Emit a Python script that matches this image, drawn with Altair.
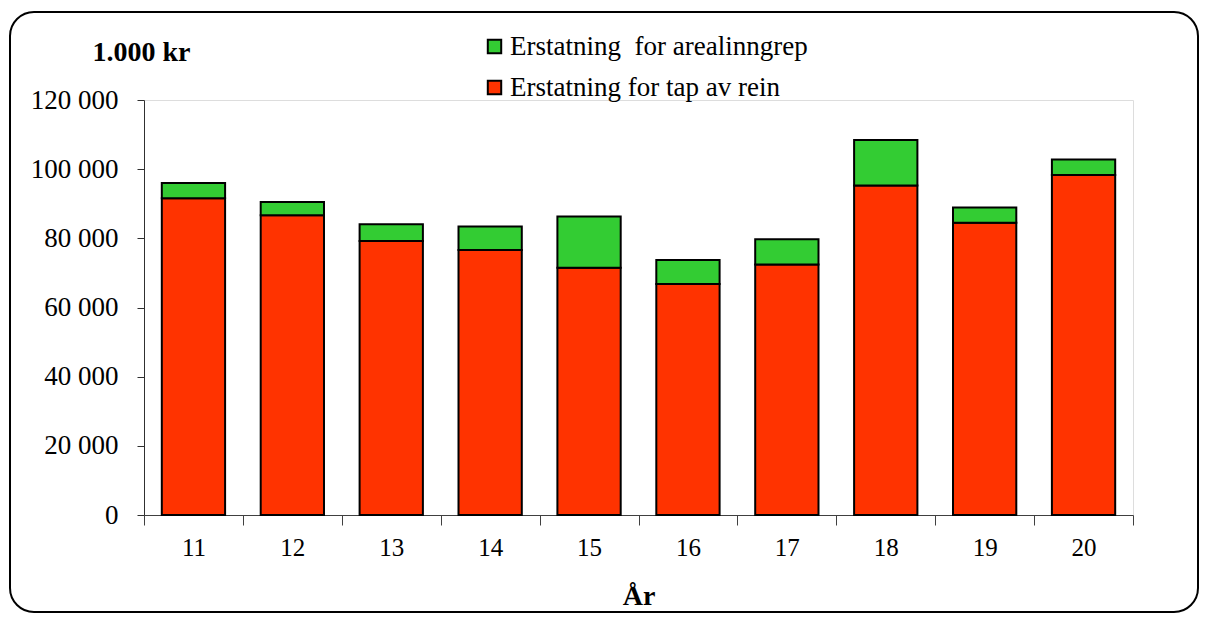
import altair as alt
import pandas as pd

years = ["11", "12", "13", "14", "15", "16", "17", "18", "19", "20"]
tap_av_rein = [91600, 86700, 79200, 76600, 71500, 66800, 72400, 95300, 84500, 98300]
arealinngrep = [4400, 3800, 4900, 6800, 14800, 6900, 7300, 13100, 4400, 4500]

lab_areal = "Erstatning\u00a0 for arealinngrep"
lab_tap = "Erstatning for tap av rein"
series = [lab_areal, lab_tap]
colors = ["#33CC33", "#FF3300"]

rows = []
for i, y in enumerate(years):
    rows.append({"year": y, "serie": lab_tap, "value": tap_av_rein[i], "ord": 0})
    rows.append({"year": y, "serie": lab_areal, "value": arealinngrep[i], "ord": 1})
df = pd.DataFrame(rows)

FONT = "Liberation Serif"
W, H = 989, 415

bars = alt.Chart(df).mark_bar(stroke="black", strokeWidth=2,
                              width=alt.RelativeBandSize(0.64)).encode(
    x=alt.X("year:N", sort=years,
            scale=alt.Scale(paddingInner=0, paddingOuter=0),
            axis=alt.Axis(title="År", labelAngle=0, tickBand="extent", tickSize=10,
                          labelPadding=10, labelFontSize=25, labelFont=FONT, labelColor="black",
                          titleFont=FONT, titleFontSize=28, titleFontWeight="bold",
                          titleColor="black", titlePadding=22,
                          domainColor="#404040", tickColor="#404040")),
    y=alt.Y("value:Q", stack="zero",
            scale=alt.Scale(domain=[0, 120000], nice=False),
            axis=alt.Axis(title="1.000 kr", values=[0, 20000, 40000, 60000, 80000, 100000, 120000],
                          labelExpr="replace(format(datum.value, ','), ',', ' ')",
                          grid=False, tickSize=7, labelPadding=19,
                          labelFontSize=27, labelFont=FONT, labelColor="black",
                          titleAngle=0, titleAlign="center", titleBaseline="alphabetic",
                          titleX=-3, titleY=-40,
                          titleFont=FONT, titleFontSize=28, titleFontWeight="bold", titleColor="black",
                          domainColor="#303030", tickColor="#303030")),
    color=alt.Color("serie:N", scale=alt.Scale(domain=series, range=colors),
                    legend=alt.Legend(title=None, orient="none", legendX=337, legendY=-67,
                                      symbolType="square", symbolSize=180,
                                      symbolStrokeColor="black", symbolStrokeWidth=2,
                                      symbolOpacity=1,
                                      labelFont=FONT, labelFontSize=27, labelColor="black",
                                      labelOffset=2, rowPadding=13, labelLimit=0)),
    order=alt.Order("ord:Q", sort="ascending"),
)

frame = alt.Chart(pd.DataFrame({"a": [0]})).mark_rect(
    fillOpacity=0, stroke="black", strokeWidth=2, cornerRadius=24
).encode(
    x=alt.value(-134), x2=alt.value(1054),
    y=alt.value(-88), y2=alt.value(512),
)

chart = alt.layer(frame, bars).properties(
    width=W, height=H,
    autosize=alt.AutoSizeParams(type="none"),
    padding={"left": 136, "top": 92, "right": 67, "bottom": 100},
).configure_view(strokeWidth=0, strokeOpacity=0).configure(font=FONT).configure_legend(
    labelFont=FONT, labelFontSize=27
).configure_axis(labelFont=FONT, titleFont=FONT)

chart.save("out.html", embed_options={"renderer": "svg", "actions": False})
